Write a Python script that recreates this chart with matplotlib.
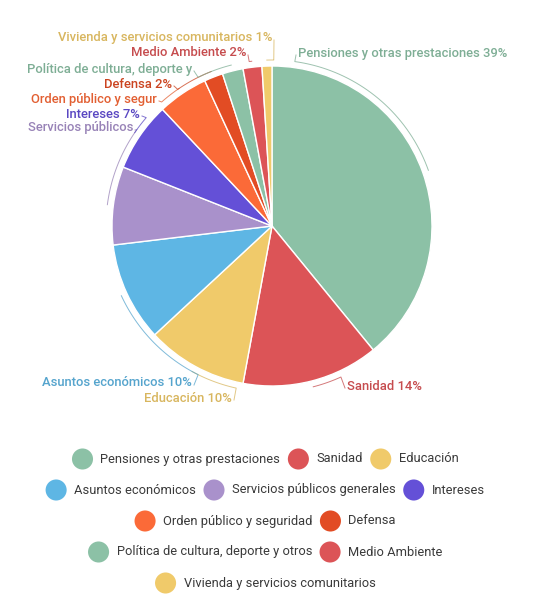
import matplotlib
matplotlib.use('Agg')
import matplotlib.pyplot as plt
import numpy as np
from matplotlib.colors import to_rgb

plt.rcParams['font.family'] = ['Roboto', 'DejaVu Sans']

categories = ['Pensiones y otras prestaciones', 'Sanidad', 'Educación', 'Asuntos económicos',
              'Servicios públicos generales', 'Intereses', 'Orden público y seguridad', 'Defensa',
              'Política de cultura, deporte y otros', 'Medio Ambiente', 'Vivienda y servicios comunitarios']
values = [39.1, 13.8, 10.2, 10.0, 7.9, 7.0, 5.1, 1.9, 2.1, 1.9, 1.0]
pct_labels = ['39%', '14%', '10%', '10%', '8%', '7%', '5%', '2%', '2%', '2%', '1%']
# slice labels as shown (long ones get cut off in the original)
short_names = ['Pensiones y otras prestaciones', 'Sanidad', 'Educación', 'Asuntos económicos',
               'Servicios públicos', 'Intereses', 'Orden público y segur', 'Defensa',
               'Política de cultura, deporte y', 'Medio Ambiente', 'Vivienda y servicios comunitarios']
show_pct = [True, True, True, True, False, True, False, True, False, True, True]
colors = ['#8cc1a6', '#dc5457', '#f0ca6a', '#5eb6e4', '#a991cb', '#6450d7',
          '#fb6a38', '#e24c24', '#8cc1a6', '#dc5457', '#f0ca6a']
legend_rows = [[0, 1, 2], [3, 4, 5], [6, 7], [8, 9], [10]]

W, H = 539, 614
cx, cy, r = 272, 226, 160

# label anchor (pixel x, y) and side
label_pos = {0: (298, 53, 'left'), 1: (347, 386, 'left'), 2: (232, 398, 'right'),
             3: (192, 383, 'right'), 4: (133, 128, 'right'), 5: (140, 114, 'right'),
             6: (157, 99, 'right'), 7: (172, 84, 'right'), 8: (192, 69, 'right'),
             9: (246, 53, 'right'), 10: (272, 38, 'right')}


def darker(c, f=0.9):
    return tuple(v * f for v in to_rgb(c))


fig = plt.figure(figsize=(W / 100, H / 100), dpi=100)
ax = fig.add_axes([0, 0, 1, 1])
wedges, _ = ax.pie(values, colors=colors, center=(cx, cy), radius=r, startangle=-90,
                   counterclock=True, wedgeprops=dict(edgecolor='white', linewidth=1))
ax.set_xlim(0, W)
ax.set_ylim(H, 0)
ax.set_aspect('equal')
ax.axis('off')

R2 = r + 6
for i, w in enumerate(wedges):
    mid = np.deg2rad((w.theta1 + w.theta2) / 2)
    lx, ly, side = label_pos[i]
    txt = short_names[i] + (' ' + pct_labels[i] if show_pct[i] else '')
    col = darker(colors[i])
    ha = 'left' if side == 'left' else 'right'
    ax.text(lx, ly, txt, ha=ha, va='center', fontsize=9.4, fontweight=500, color=col)
    # tick: from label end to ring, then along the ring to the slice middle
    ax_x = lx - 2 if side == 'left' else lx + 2
    a0 = np.arctan2(ly - cy, ax_x - cx)
    d = (mid - a0 + np.pi) % (2 * np.pi) - np.pi
    th = np.linspace(a0, a0 + d, 40)
    xs = np.concatenate([[ax_x], cx + R2 * np.cos(th)])
    ys = np.concatenate([[ly + 2], cy + R2 * np.sin(th)])
    ax.plot(xs, ys, color=col, lw=0.7, alpha=0.75)

# legend, built row by row and centered
fig.canvas.draw()
renderer = fig.canvas.get_renderer()
row_y = [459, 490, 521, 552, 583]
for ry, row in zip(row_y, legend_rows):
    widths = []
    for i in row:
        t = ax.text(0, 0, categories[i], fontsize=9.3)
        widths.append(t.get_window_extent(renderer).width)
        t.remove()
    total = sum(27 + wd for wd in widths) + 9 * (len(row) - 1)
    x = 266 - total / 2
    for i, wd in zip(row, widths):
        ax.scatter([x + 9], [ry], s=230, color=colors[i], edgecolors='none')
        ax.text(x + 27, ry, categories[i], fontsize=9.3, color='#3a3a3a', va='center')
        x += 27 + wd + 9

fig.savefig('out.png', dpi=100, facecolor='white')
